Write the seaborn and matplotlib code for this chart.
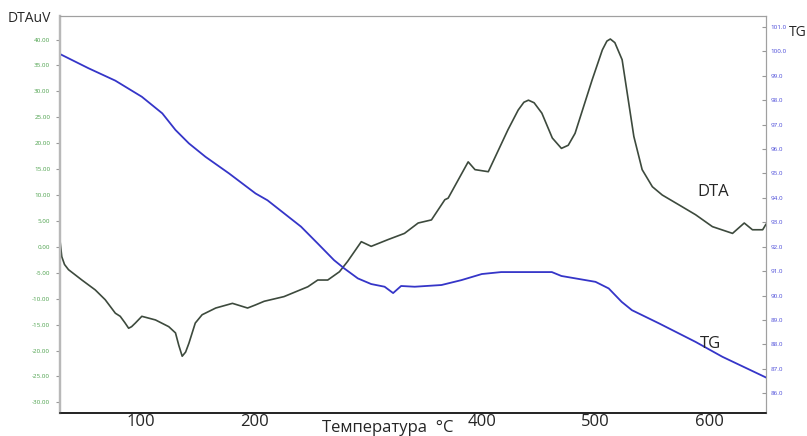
import matplotlib
matplotlib.use("Agg")
import matplotlib.pyplot as plt
import seaborn as sns
import numpy as np
import pandas as pd

# DTA curve (temperature in C, signal in uV)
dta_temp = [29, 30.6, 33, 36.5, 48.3, 60, 68.8, 77.7, 82, 86, 89.4, 92, 95.3, 101, 113,
            124.7, 130.6, 133.5, 136.5, 139.5, 142.4, 148, 154, 166, 180.7, 194, 201,
            208.6, 226, 247, 255.7, 264.5, 274.8, 282, 294, 302.7, 317.5, 332, 344,
            355.7, 367.5, 370.4, 388, 394, 405.7, 423, 432, 437, 441, 446, 452.8,
            462, 470, 476, 482, 497, 506, 510, 513, 517, 523.4, 533.7, 541, 550,
            558.7, 573.4, 588, 602.8, 620.5, 630.8, 638, 647, 650]
dta_val = [1.3, -1.9, -3.4, -4.4, -6.4, -8.3, -10.2, -12.8, -13.4, -14.6, -15.7, -15.4,
           -14.7, -13.4, -14.1, -15.4, -16.6, -19.0, -21.1, -20.3, -18.6, -14.7, -13.1,
           -11.8, -10.9, -11.8, -11.2, -10.5, -9.6, -7.7, -6.4, -6.4, -4.8, -2.8, 1.0,
           0.1, 1.4, 2.6, 4.6, 5.2, 9.1, 9.4, 16.4, 14.9, 14.5, 22.6, 26.4, 27.9, 28.3,
           27.8, 25.8, 21.0, 19.0, 19.6, 21.9, 32.2, 38.0, 39.7, 40.1, 39.4, 36.1,
           21.3, 14.9, 11.6, 10.0, 8.1, 6.2, 3.9, 2.6, 4.6, 3.3, 3.3, 4.4]

# TG curve (temperature in C, mass %)
tg_temp = [29, 54, 77.7, 101, 119, 130.6, 142.4, 157, 177.7, 201, 211.5, 241, 255.7,
           270, 279, 291, 302.7, 314.5, 322, 329, 341, 364.5, 382, 400, 417, 461.6,
           470, 500, 511.6, 523, 532, 555.8, 588, 611.6, 650.5]
tg_val = [99.89, 99.31, 98.8, 98.14, 97.46, 96.78, 96.23, 95.68, 95.0, 94.18, 93.9,
          92.82, 92.13, 91.45, 91.11, 90.7, 90.47, 90.36, 90.1, 90.39, 90.36, 90.43,
          90.63, 90.88, 90.96, 90.96, 90.8, 90.56, 90.29, 89.74, 89.4, 88.86, 88.1,
          87.49, 86.63]

x_ticks = [100, 200, 400, 500, 600]
dta_ticks = list(range(-30, 41, 5))
tg_ticks = list(range(86, 102))

sns.set_style("white")
plt.rcParams['font.family'] = ['Open Sans', 'DejaVu Sans']

fig = plt.figure(figsize=(8.07, 4.36), dpi=100)
ax = fig.add_axes([0.0743, 0.0534, 0.875, 0.9106])
ax2 = ax.twinx()

dta_df = pd.DataFrame({"T": dta_temp, "DTA": dta_val})
tg_df = pd.DataFrame({"T": tg_temp, "TG": tg_val})

sns.lineplot(data=dta_df, x="T", y="DTA", ax=ax, sort=False, color="#3d4a3d", linewidth=1.2)
sns.lineplot(data=tg_df, x="T", y="TG", ax=ax2, sort=False, color="#3535c8", linewidth=1.3)

ax.set_xlim(29, 650)
ax.set_ylim(-32, 44.6)
ax2.set_ylim(85.2, 101.46)

ax.set_xticks(list(range(50, 651, 50)))
ax.set_xticklabels([str(t) if t in x_ticks else "" for t in range(50, 651, 50)], fontsize=12)
ax.set_yticks(dta_ticks)
ax.set_yticklabels([f"{v:.2f}" for v in dta_ticks], fontsize=4.5, color="#4aa04a")
ax2.set_yticks(tg_ticks)
ax2.set_yticklabels([f"{v:.1f}" for v in tg_ticks], fontsize=4.5, color="#4848d8")

ax.tick_params(axis="x", direction="in", length=5, pad=1, color="#333333")
ax.tick_params(axis="y", direction="out", length=3, pad=4, color="#999999")
ax2.tick_params(axis="y", direction="in", length=3, pad=3, color="#999999")

ax.set_xlabel("")
ax.set_ylabel("")
ax2.set_ylabel("")

for a in (ax, ax2):
    a.spines["left"].set_color("#b8b8b8")
    a.spines["left"].set_linewidth(1.6)
    a.spines["top"].set_color("#a0a0a0")
    a.spines["right"].set_color("#a0a0a0")
    a.spines["bottom"].set_color("#222222")
    a.spines["bottom"].set_linewidth(1.2)

fig.text(0.010, 0.958, "DTAuV", fontsize=10, va="center", ha="left")
fig.text(0.978, 0.926, "TG", fontsize=10, va="center", ha="left")
fig.text(0.399, 0.018, "Температура  °C", fontsize=12, va="center", ha="left")
ax.text(590, 10.5, "DTA", fontsize=12, va="center", ha="left")
ax2.text(592, 88.0, "TG", fontsize=12, va="center", ha="left")

fig.savefig("out.png", dpi=100)
